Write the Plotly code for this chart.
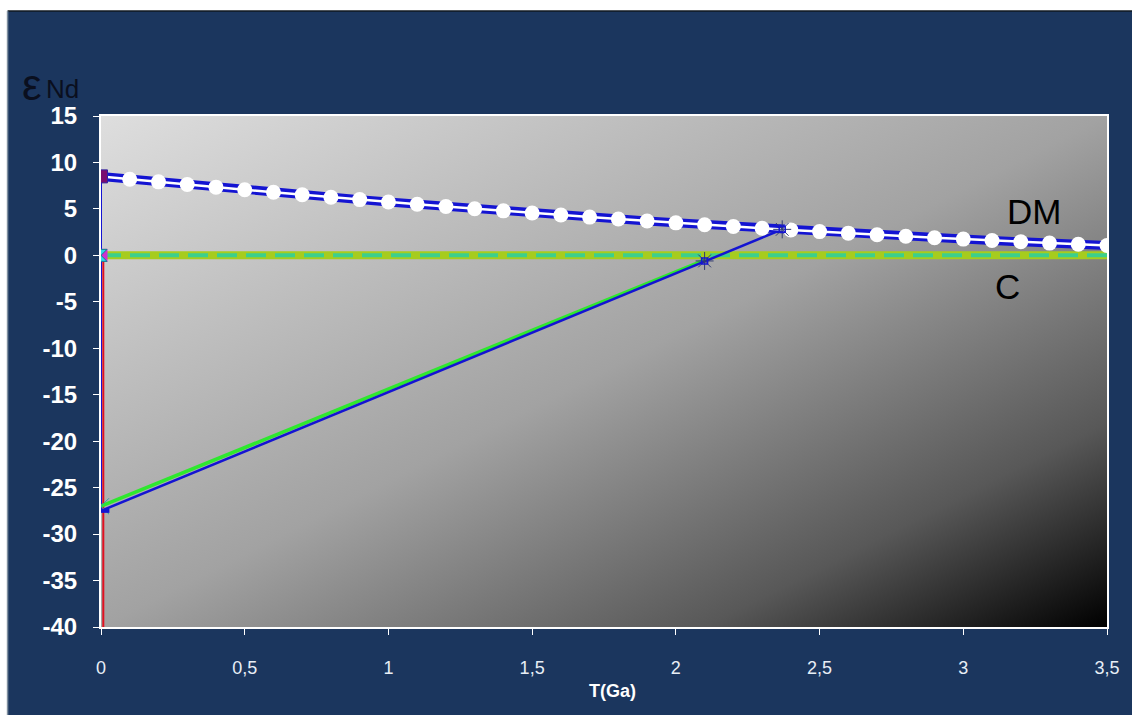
import base64
import plotly.graph_objects as go

# ---------------- data ----------------
T_DM = [0.0, 0.1, 0.2, 0.3, 0.4, 0.5, 0.6, 0.7, 0.8, 0.9, 1.0, 1.1, 1.2, 1.3, 1.4, 1.5,
        1.6, 1.7, 1.8, 1.9, 2.0, 2.1, 2.2, 2.3, 2.4, 2.5, 2.6, 2.7, 2.8, 2.9, 3.0, 3.1,
        3.2, 3.3, 3.4, 3.5]
EPS_DM = [8.50, 8.20, 7.91, 7.62, 7.34, 7.06, 6.79, 6.52, 6.26, 6.00, 5.75, 5.50, 5.26,
          5.02, 4.79, 4.56, 4.34, 4.12, 3.91, 3.70, 3.50, 3.30, 3.11, 2.92, 2.74, 2.56,
          2.39, 2.22, 2.06, 1.90, 1.75, 1.60, 1.46, 1.32, 1.19, 1.06]

T_CHUR = [0.0, 3.5]
EPS_CHUR = [0.0, 0.0]

T_SAMPLE_DM = [0.0, 2.1, 2.37]
EPS_SAMPLE_DM = [-27.5, -0.6, 2.8]

T_SAMPLE_CHUR = [0.0, 2.1]
EPS_SAMPLE_CHUR = [-27.0, -0.5]

T_VERT_BLUE = [0.0, 0.0]
EPS_VERT_BLUE = [8.5, -27.5]
T_VERT_RED = [0.008, 0.008]
EPS_VERT_RED = [0.0, -40.0]

X_TICKS = [0, 0.5, 1, 1.5, 2, 2.5, 3, 3.5]
X_TICK_LABELS = ["0", "0,5", "1", "1,5", "2", "2,5", "3", "3,5"]
Y_TICKS = [15, 10, 5, 0, -5, -10, -15, -20, -25, -30, -35, -40]
Y_TICK_LABELS = [str(v) for v in Y_TICKS]

NAVY = "#1b365e"
BLUE = "#1414d2"
FONT = "Liberation Sans, Arial"

fig = go.Figure()

# CHUR line (yellow-green with green dashes)
fig.add_trace(go.Scatter(x=T_CHUR, y=EPS_CHUR, mode="lines",
                         line=dict(color="#a6cc1e", width=8), hoverinfo="skip"))
fig.add_trace(go.Scatter(x=T_CHUR, y=EPS_CHUR, mode="lines",
                         line=dict(color="#3ccf8c", width=4, dash="20px,9px"), hoverinfo="skip"))

# vertical lines at T=0
fig.add_trace(go.Scatter(x=T_VERT_RED, y=EPS_VERT_RED, mode="lines",
                         line=dict(color="#e01020", width=2), hoverinfo="skip"))
fig.add_trace(go.Scatter(x=T_VERT_BLUE, y=EPS_VERT_BLUE, mode="lines",
                         line=dict(color=BLUE, width=2), hoverinfo="skip"))

# sample evolution lines
fig.add_trace(go.Scatter(x=T_SAMPLE_CHUR, y=EPS_SAMPLE_CHUR, mode="lines",
                         line=dict(color="#2ee82e", width=3.5), hoverinfo="skip"))
fig.add_trace(go.Scatter(x=T_SAMPLE_DM, y=EPS_SAMPLE_DM, mode="lines",
                         line=dict(color=BLUE, width=2.5), hoverinfo="skip"))

# DM line (double blue line with white core and white dots)
fig.add_trace(go.Scatter(x=T_DM, y=EPS_DM, mode="lines",
                         line=dict(color=BLUE, width=9), hoverinfo="skip"))
fig.add_trace(go.Scatter(x=T_DM, y=EPS_DM, mode="lines",
                         line=dict(color="white", width=2.5), hoverinfo="skip"))
fig.add_trace(go.Scatter(x=T_DM[1:], y=EPS_DM[1:], mode="markers",
                         marker=dict(color="white", size=15, line=dict(width=0)),
                         hoverinfo="skip"))

# markers at T=0
fig.add_trace(go.Scatter(x=[T_DM[0]], y=[EPS_DM[0]], mode="markers",
                         marker=dict(symbol="square", color="#7a0c70", size=13,
                                     line=dict(color="#3020a0", width=1)), hoverinfo="skip"))
fig.add_trace(go.Scatter(x=[T_CHUR[0]], y=[EPS_CHUR[0]], mode="markers",
                         marker=dict(symbol="square", color="#d030d0", size=13,
                                     line=dict(width=0)), hoverinfo="skip"))
fig.add_trace(go.Scatter(x=[T_CHUR[0]], y=[EPS_CHUR[0]], mode="markers",
                         marker=dict(symbol="hourglass", color="#30d8e8", size=12,
                                     line=dict(color="#108090", width=1)), hoverinfo="skip"))
fig.add_trace(go.Scatter(x=[T_SAMPLE_CHUR[0]], y=[EPS_SAMPLE_CHUR[0]], mode="markers",
                         marker=dict(symbol="x-thin-open", color="#30a0a0", size=16,
                                     line=dict(color="#30a0a0", width=1)), hoverinfo="skip"))
fig.add_trace(go.Scatter(x=[T_SAMPLE_DM[0]], y=[EPS_SAMPLE_DM[0]], mode="markers",
                         marker=dict(symbol="line-ew-open", color=BLUE, size=12,
                                     line=dict(color=BLUE, width=4)), hoverinfo="skip"))

# model-age markers
fig.add_trace(go.Scatter(x=T_SAMPLE_DM[1:], y=EPS_SAMPLE_DM[1:], mode="markers",
                         marker=dict(symbol="asterisk-open", color="#303a70", size=15,
                                     line=dict(color="#303a70", width=1)), hoverinfo="skip"))
fig.add_trace(go.Scatter(x=T_SAMPLE_DM[1:], y=EPS_SAMPLE_DM[1:], mode="markers",
                         marker=dict(symbol="square-open", color=BLUE, size=6,
                                     line=dict(color=BLUE, width=1.5)), hoverinfo="skip"))

# gradient background image for the plot area
svg = ("<svg xmlns='http://www.w3.org/2000/svg' width='1000' height='500' "
       "viewBox='0 0 1000 500' preserveAspectRatio='none'><defs>"
       "<linearGradient id='g' x1='0' y1='0' x2='1' y2='1'>"
       "<stop offset='0' stop-color='#dedede'/>"
       "<stop offset='0.5' stop-color='#a2a2a2'/>"
       "<stop offset='0.8' stop-color='#585858'/>"
       "<stop offset='1' stop-color='#000000'/>"
       "</linearGradient></defs>"
       "<rect x='0' y='0' width='1000' height='500' fill='url(#g)'/></svg>")
src = "data:image/svg+xml;base64," + base64.b64encode(svg.encode()).decode()

# figure geometry (pixels)
W, H = 1132, 715
L, R, T, B = 101, 19, 116, 88
pw, ph = W - L - R, H - T - B


def px(xp):
    return (xp - L) / pw


def py(yp):
    return (H - B - yp) / ph


fig.update_layout(
    width=W, height=H,
    margin=dict(l=L, r=R, t=T, b=B, pad=0),
    paper_bgcolor=NAVY,
    plot_bgcolor="rgba(0,0,0,0)",
    showlegend=False,
    separators=", ",
    images=[dict(source=src, xref="x", yref="y", x=0, y=15, sizex=3.5, sizey=55,
                 xanchor="left", yanchor="top", sizing="stretch", layer="below")],
    shapes=[
        # white outer strips
        dict(type="rect", xref="paper", yref="paper", x0=px(-50), x1=px(W + 50),
             y0=py(11), y1=py(-50), fillcolor="white", line=dict(width=0), layer="below"),
        dict(type="rect", xref="paper", yref="paper", x0=px(-50), x1=px(7),
             y0=py(H + 50), y1=py(-50), fillcolor="white", line=dict(width=0), layer="below"),
        dict(type="line", xref="paper", yref="paper", x0=px(7), x1=px(W + 50),
             y0=py(11), y1=py(11), line=dict(color="#101820", width=1.5), layer="below"),
        dict(type="line", xref="paper", yref="paper", x0=px(7), x1=px(7),
             y0=py(11), y1=py(H + 50), line=dict(color="#8090a0", width=1.5), layer="below"),
    ],
    xaxis=dict(range=[0, 3.5], tickmode="array", tickvals=X_TICKS, ticktext=X_TICK_LABELS,
               showgrid=False, zeroline=False, showline=True, mirror=True,
               linecolor="white", linewidth=2, ticks="outside", ticklen=6,
               tickcolor="white", tickwidth=1,
               tickfont=dict(family=FONT, size=18, color="#e8eef6"),
               ticklabelstandoff=17),
    yaxis=dict(range=[-40, 15], tickmode="array", tickvals=Y_TICKS, ticktext=Y_TICK_LABELS,
               showgrid=False, zeroline=False, showline=True, mirror=True,
               linecolor="white", linewidth=2, ticks="outside", ticklen=6,
               tickcolor="white", tickwidth=1,
               tickfont=dict(family=FONT, size=24, color="white", weight="bold"),
               ticklabelstandoff=11),
    annotations=[
        dict(xref="paper", yref="paper", x=px(616), y=py(691), text="<b>T(Ga)</b>",
             showarrow=False, xanchor="center", yanchor="middle",
             font=dict(family=FONT, size=18, color="white")),
        dict(xref="paper", yref="paper", x=px(20), y=py(84), text="ε",
             showarrow=False, xanchor="left", yanchor="middle",
             font=dict(family=FONT, size=44, color="#0a0f1e")),
        dict(xref="paper", yref="paper", x=px(44), y=py(89), text="Nd",
             showarrow=False, xanchor="left", yanchor="middle",
             font=dict(family=FONT, size=26, color="#0a0f1e")),
        dict(xref="paper", yref="paper", x=px(1040), y=py(211), text="DM", showarrow=False,
             xanchor="center", yanchor="middle",
             font=dict(family=FONT, size=35, color="black")),
        dict(xref="paper", yref="paper", x=px(1013), y=py(286), text="C", showarrow=False,
             xanchor="center", yanchor="middle",
             font=dict(family=FONT, size=35, color="black")),
    ],
)

fig.write_html("out.html")
